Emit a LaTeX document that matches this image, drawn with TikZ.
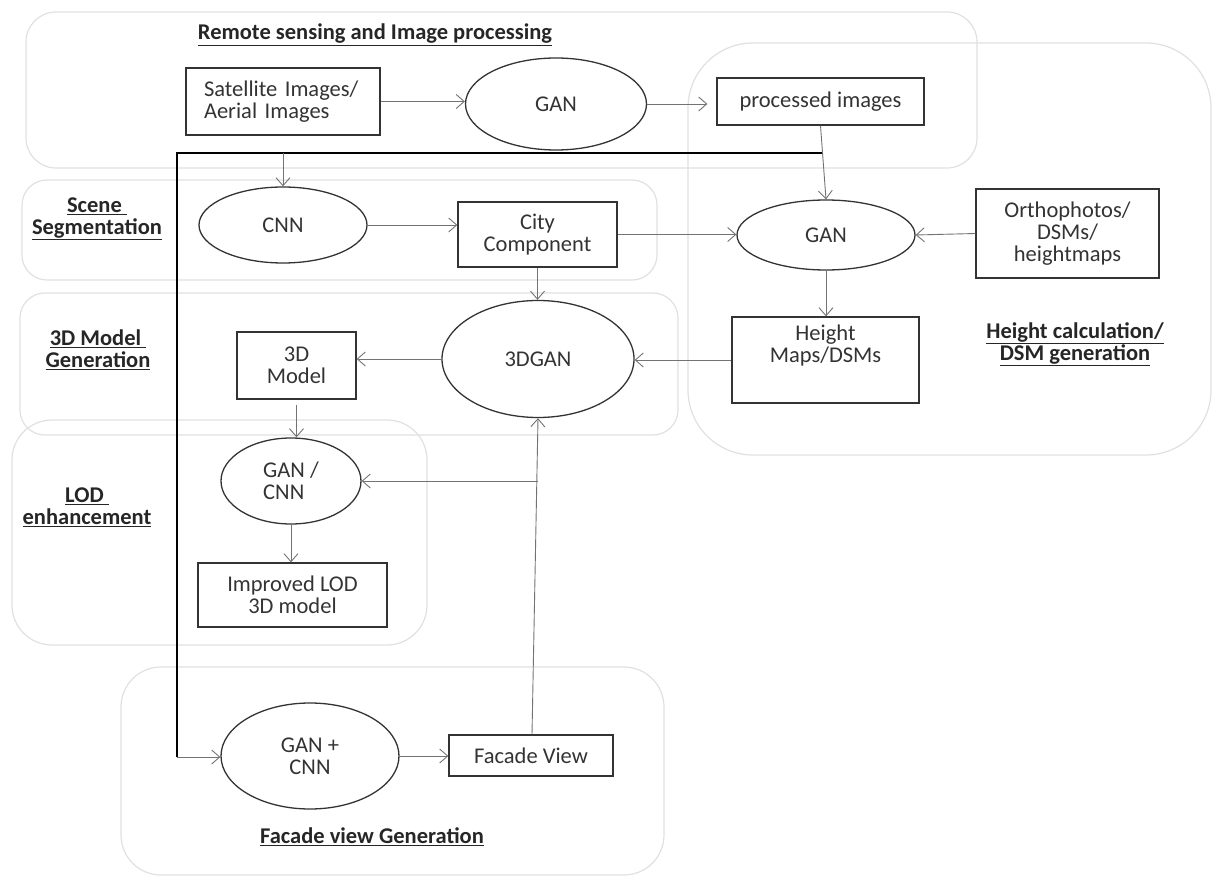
\documentclass[tikz,border=0pt]{standalone}
\usepackage{fontspec}
\setmainfont{Carlito}
\usetikzlibrary{arrows.meta}
\usetikzlibrary{shapes.geometric}

\newcommand{\dgmfont}{\fontsize{22.5}{22}\selectfont}

\tikzset{
  grp/.style={draw=black!12, line width=1.2pt, rounded corners=#1},
  box/.style={draw=black!80, line width=1.3pt, inner sep=0pt, align=center, text=black!80},
  oval/.style={ellipse, draw=black!80, line width=1.3pt, inner sep=0pt, align=center, text=black!80},
  txt/.style={inner sep=0pt, align=center, text=black!80},
  head/.style={font=\dgmfont\bfseries, text=black!85, align=center, inner sep=0pt},
  flow/.style={draw=black!55, line width=0.9pt, -{Straight Barb[length=8pt,width=14pt]}},
  back/.style={draw=black, line width=1.6pt},
}

\begin{document}
\begin{tikzpicture}[x=1pt,y=1pt,yscale=-1,font=\dgmfont]
\useasboundingbox (0,0) rectangle (1213,877);

%Groups
\draw[grp=30pt] (26,12) rectangle (977,168);
\draw[grp=65pt] (688,43) rectangle (1211,455);
\draw[grp=25pt] (22,180) rectangle (657,280);
\draw[grp=25pt] (20,293) rectangle (678,435);
\draw[grp=40pt] (12,420) rectangle (427,645);
\draw[grp=40pt] (121,667) rectangle (664,875);

%Remote sensing
\node[box, minimum width=194pt, minimum height=67pt, text width=158pt, align=left] (sat) at (283,101.5) {Satellite Images/\\Aerial Images};
\node[oval, minimum width=181pt, minimum height=92pt] (gan1) at (556,104) {GAN};
\node[box, minimum width=207pt, minimum height=47pt] (proc) at (820.5,101.5) {processed images};

%Scene segmentation
\node[oval, minimum width=168pt, minimum height=76pt] (cnn) at (283,225) {CNN};
\node[box, minimum width=159pt, minimum height=65pt] (city) at (537.5,234.5) {City\\Component};

%Height calculation
\node[oval, minimum width=178pt, minimum height=70pt] (gan2) at (826,235) {GAN};
\node[box, minimum width=183pt, minimum height=89pt] (ortho) at (1067.5,233.5) {Orthophotos/\\DSMs/\\heightmaps};
\node[box, minimum width=187pt, minimum height=86pt] (hmap) at (825.5,360) {};
\node[txt] (hmaptxt) at (825.5,346) {Height\\Maps/DSMs};

%3D model
\node[oval, minimum width=192pt, minimum height=117pt] (gan3d) at (538,359) {3DGAN};
\node[box, minimum width=119pt, minimum height=67pt] (model) at (296.5,365.5) {3D\\Model};

%LOD
\node[oval, minimum width=140pt, minimum height=86pt, align=left] (gancnn) at (291,481) {GAN /\\CNN};
\node[box, minimum width=189pt, minimum height=64pt] (improved) at (292.5,595) {Improved LOD\\3D model};

%Facade
\node[oval, minimum width=178pt, minimum height=106pt] (gfac) at (310,756) {GAN +\\CNN};
\node[box, minimum width=164pt, minimum height=41pt] (facade) at (531,755.5) {Facade View};

% Text Node
\node[head] (tremote) at (375,35) {\underline{Remote sensing and Image processing}};
\node[head] (tscene) at (97,219) {\underline{Scene\ }\\\underline{Segmentation}};
\node[head] (tmodel) at (98,350) {\underline{3D Model\ }\\\underline{Generation}};
\node[head] (tlod) at (87,507) {\underline{LOD\ }\\\underline{enhancement}};
\node[head] (theight) at (1075,344) {\underline{Height calculation/}\\\underline{DSM generation}};
\node[head] (tfacade) at (372,837) {\underline{Facade view Generation}};

%Feedback line
\coordinate (fbtop) at (822,153);
\coordinate (fbleft) at (177,153);
\coordinate (fbbot) at (177,757);
\draw[back] (fbtop) -- (fbleft) -- (fbbot);
\draw[flow] (fbbot) -- (fbbot -| gfac.west);
\draw[flow] (cnn.north |- fbtop) -- (cnn.north);

%Connectors
\draw[flow] (sat.east) -- (sat.east -| gan1.west);
\draw[flow, shorten >=9pt] (gan1.east) -- (gan1.east -| proc.west);
\draw[flow] (proc.south) -- (gan2.north);
\draw[flow] (cnn.east) -- (cnn.east -| city.west);
\draw[flow] (city.east) -- (city.east -| gan2.west);
\draw[flow] (ortho.west) -- (gan2.east);
\draw[flow] (city.south) -- (city.south |- gan3d.north);
\draw[flow] (gan2.south) -- (gan2.south |- hmap.north);
\draw[flow] (hmap.west) -- (hmap.west -| gan3d.east);
\draw[flow] (gan3d.west) -- (gan3d.west -| model.east);
\draw[flow, shorten <=5pt] (model.south) -- (model.south |- gancnn.north);
\draw[flow] (gancnn.south) -- (gancnn.south |- improved.north);
\draw[flow] ([xshift=1pt]facade.north) -- (gan3d.south);
\coordinate (jlod) at (gan3d.south |- gancnn.east);
\draw[flow] (jlod) -- (gancnn.east);
\draw[flow] (gfac.east) -- (gfac.east -| facade.west);

\end{tikzpicture}
\end{document}
